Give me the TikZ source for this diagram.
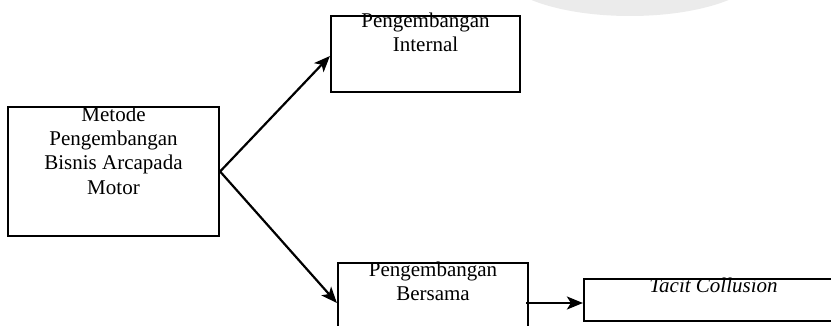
\documentclass[tikz,border=0pt]{standalone}
\usepackage{fontspec}
\setmainfont{Liberation Serif}
\usetikzlibrary{arrows.meta,positioning}
\begin{document}
\begin{tikzpicture}[x=1pt,y=-1pt,
  box/.style={draw=black,line width=2.2pt,fill=white,rectangle,inner sep=0pt},
  lbl/.style={font=\fontsize{21}{24.3}\selectfont,align=center,inner sep=0pt,anchor=north},
  conn/.style={line width=2.2pt,-{Stealth[length=16pt,width=13pt,inset=4pt]}}]
\useasboundingbox (0,0) rectangle (831,326);
\clip (0,0) rectangle (831,326);
\fill[black!8] (630,-30) ellipse [x radius=130, y radius=46];
% boxes
\node[box,minimum width=211pt,minimum height=129pt] (metode) at (113.5,171.5) {};
\node[box,minimum width=189pt,minimum height=76pt] (internal) at (425.5,54) {};
\node[box,minimum width=190pt,minimum height=80pt] (bersama) at (433,303) {};
\node[box,minimum width=259pt,minimum height=42pt] (tacit) at (713.5,300) {};
% labels
\node[lbl] (tmetode) at ([yshift=-0.7pt]metode.north) {Metode\\Pengembangan\\Bisnis Arcapada\\Motor};
\node[lbl] (tinternal) at ([yshift=2pt]internal.north) {Pengembangan\\Internal};
\node[lbl] (tbersama) at ([yshift=0.3pt]bersama.north) {Pengembangan\\Bersama};
\node[lbl] (ttacit) at ([yshift=0.3pt]tacit.north) {\itshape Tacit Collusion};
% connectors
\draw[conn] (metode.east) -- ([yshift=-2pt]internal.west);
\draw[conn] (metode.east) -- (bersama.west);
\draw[conn] ([xshift=-3pt]bersama.east) -- (bersama.east -| tacit.west);
\end{tikzpicture}
\end{document}
